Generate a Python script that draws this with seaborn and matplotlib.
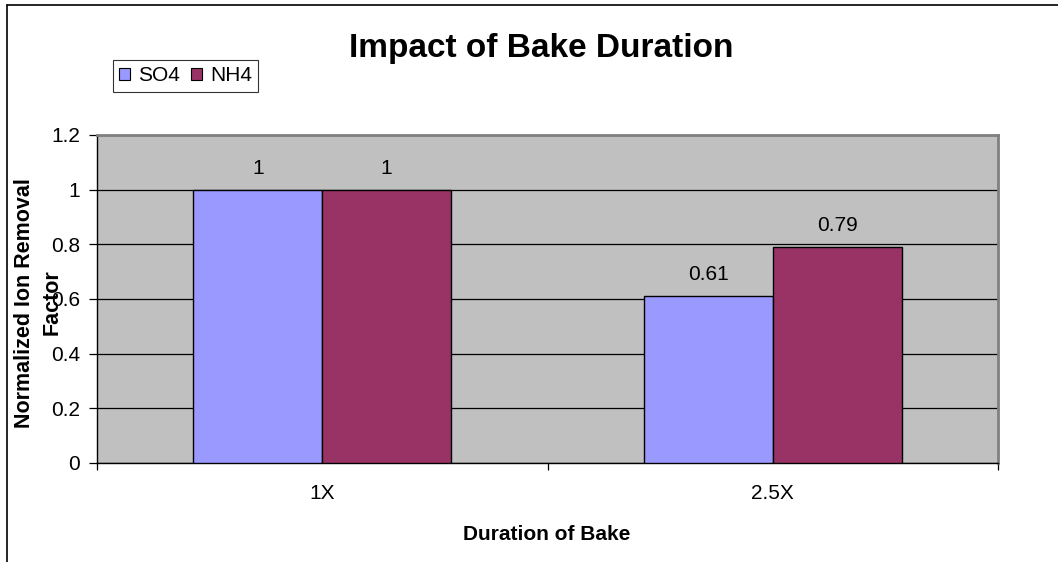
import matplotlib
matplotlib.use("Agg")
import matplotlib.pyplot as plt
import seaborn as sns
import pandas as pd
from matplotlib.patches import Patch
from matplotlib.lines import Line2D

categories = ["1X", "2.5X"]
series_names = ["SO4", "NH4"]
so4_values = [1.0, 0.61]
nh4_values = [1.0, 0.79]
value_labels_so4 = ["1", "0.61"]
value_labels_nh4 = ["1", "0.79"]
y_ticks = [0, 0.2, 0.4, 0.6, 0.8, 1.0, 1.2]
y_tick_labels = ["0", "0.2", "0.4", "0.6", "0.8", "1", "1.2"]

colors = {"SO4": "#9999FF", "NH4": "#993366"}

df = pd.DataFrame({
    "Duration": categories * 2,
    "Series": [series_names[0]] * len(categories) + [series_names[1]] * len(categories),
    "Value": so4_values + nh4_values,
})

sns.set_style("white")
plt.rcParams["font.family"] = ["Liberation Sans", "DejaVu Sans"]
plt.rcParams["text.color"] = "black"
plt.rcParams["xtick.color"] = "black"
plt.rcParams["ytick.color"] = "black"
plt.rcParams["axes.labelcolor"] = "black"

FS = 15
W, H = 1058, 562
fig = plt.figure(figsize=(W / 100, H / 100), dpi=100)
ax = fig.add_axes([97 / W, 1 - 463 / H, (998 - 97) / W, (463 - 135) / H])
ax.set_facecolor("#C0C0C0")

sns.barplot(data=df, x="Duration", y="Value", hue="Series", order=categories,
            hue_order=series_names, palette=colors, width=0.572,
            edgecolor="black", linewidth=1.0, saturation=1.0, ax=ax, legend=False,
            zorder=3)

ax.set_xlim(-0.5, 1.5)
ax.set_ylim(0, 1.2)
ax.set_yticks(y_ticks)
ax.set_yticklabels(y_tick_labels, fontsize=FS, color="black")
ax.yaxis.grid(True, color="black", linewidth=0.9, zorder=0)
ax.set_axisbelow(True)
ax.tick_params(axis="y", direction="out", length=6, width=0.9, color="black", pad=6, left=True)
ax.set_xticks([0, 1])
ax.set_xticklabels(categories, fontsize=FS, color="black")
ax.set_xticks([-0.5, 0.5, 1.5], minor=True)
ax.tick_params(axis="x", which="major", length=0, pad=15)
ax.tick_params(axis="x", which="minor", direction="out", length=5, width=0.9, color="black", bottom=True)

for side in ["left", "bottom"]:
    ax.spines[side].set_color("black")
    ax.spines[side].set_linewidth(1.0)
for side in ["top", "right"]:
    ax.spines[side].set_color("#808080")
    ax.spines[side].set_linewidth(2.0)

ax.set_xlabel("")
ax.set_ylabel("")
fig.text(547 / W, 1 - 540 / H, "Duration of Bake", ha="center", va="baseline",
         fontsize=FS, fontweight="bold", color="black")

# data labels
for container, labels in zip(ax.containers, [value_labels_so4, value_labels_nh4]):
    for bar, lab in zip(container, labels):
        ax.annotate(lab, (bar.get_x() + bar.get_width() / 2, bar.get_height()),
                    xytext=(0, 11.5), textcoords="offset points", ha="center",
                    va="baseline", fontsize=FS, color="black")

fig.text(25 / W, 1 - 303 / H, "Normalized Ion Removal", rotation=90, ha="center",
         va="center", fontsize=15.5, fontweight="bold", color="black")
fig.text(52 / W, 1 - 302 / H, "Factor", rotation=90, ha="center",
         va="center", fontsize=15.5, fontweight="bold", color="black")

fig.text(541 / W, 1 - 57 / H, "Impact of Bake Duration", ha="center", va="baseline",
         fontsize=24, fontweight="bold", color="black")

handles = [Patch(facecolor=colors[s], edgecolor="black", linewidth=0.8, label=s) for s in series_names]
leg = fig.legend(handles=handles, loc="upper left", bbox_to_anchor=(113 / W, 1 - 60 / H),
                 ncol=2, frameon=True, fontsize=FS, handlelength=0.53, handleheight=0.53,
                 handletextpad=0.38, columnspacing=0.53, borderpad=0.3, borderaxespad=0)
for t in leg.get_texts():
    t.set_color("black")
leg.get_frame().set_edgecolor("black")
leg.get_frame().set_linewidth(0.8)
leg.get_frame().set_boxstyle("square", pad=0)

# chart area border (left and top visible)
fig.add_artist(Line2D([7 / W, 7 / W], [0, 1 - 5 / H], color="black", linewidth=1.2, transform=fig.transFigure))
fig.add_artist(Line2D([7 / W, 1], [1 - 5 / H, 1 - 5 / H], color="black", linewidth=1.2, transform=fig.transFigure))

fig.savefig("out.png", dpi=100)
